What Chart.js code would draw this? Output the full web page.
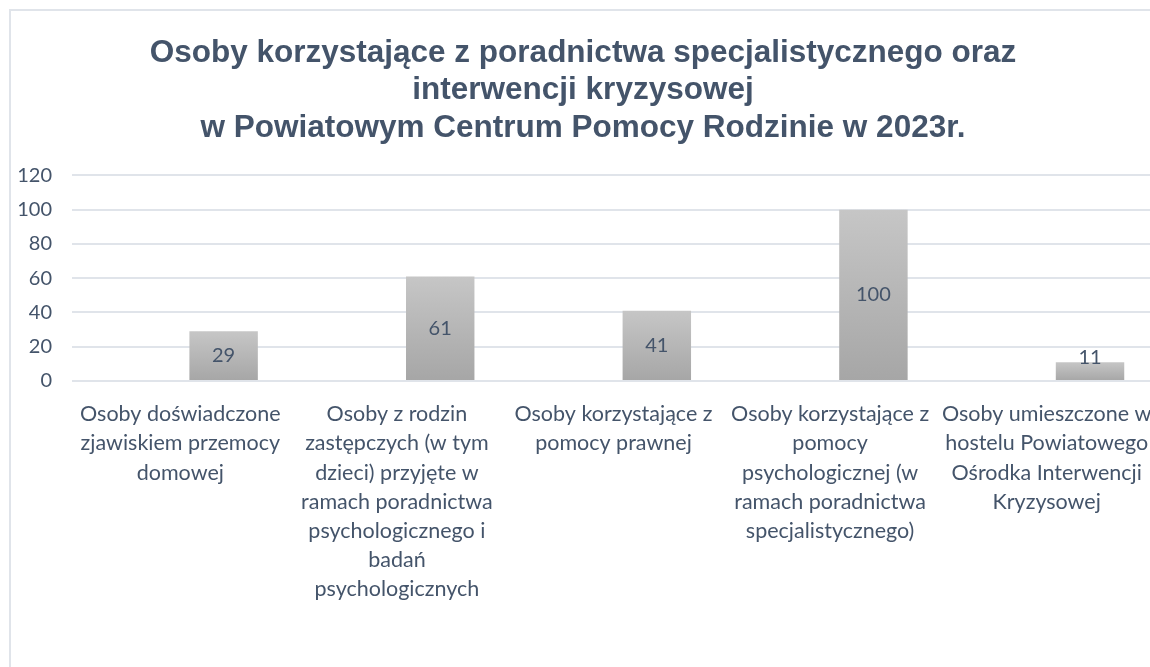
<!DOCTYPE html>
<html>
<head>
<meta charset="utf-8">
<script src="https://cdn.jsdelivr.net/npm/chart.js@4"></script>
<style>
    html, body { margin: 0; padding: 0; background: #fff; overflow: hidden; }
    #frame {
        position: absolute; left: 9px; top: 9px;
        width: 1170px; height: 700px;
        border-left: 2px solid #E0E4EA; border-top: 2px solid #E0E4EA;
        overflow: hidden;
    }
    #wrap { position: absolute; left: 0; top: 0; width: 1160px; height: 600px; }
</style>
</head>
<body>
<div id="frame"><div id="wrap"><canvas id="barChart"></canvas></div></div>
<script>
// dane
var categories = [
    ['Osoby doświadczone', 'zjawiskiem przemocy', 'domowej'],
    ['Osoby z rodzin', 'zastępczych (w tym', 'dzieci) przyjęte w', 'ramach poradnictwa', 'psychologicznego i', 'badań', 'psychologicznych'],
    ['Osoby korzystające z', 'pomocy prawnej'],
    ['Osoby korzystające z', 'pomocy', 'psychologicznej (w', 'ramach poradnictwa', 'specjalistycznego)'],
    ['Osoby umieszczone w', 'hostelu Powiatowego', 'Ośrodka Interwencji', 'Kryzysowej']
];
var values = [29, 61, 41, 100, 11];
var emptySeries = [null, null, null, null, null];
var yTicks = [0, 20, 40, 60, 80, 100, 120];
var titleLines = [
    'Osoby korzystające z poradnictwa specjalistycznego oraz',
    'interwencji kryzysowej',
    'w Powiatowym Centrum Pomocy Rodzinie w 2023r.'
];

var textColor = '#44546A';

function barGradient(context) {
    var chart = context.chart;
    var y = chart.scales.y;
    if (!y || context.raw == null) return '#B8B8B8';
    var top = y.getPixelForValue(context.raw);
    var bottom = y.getPixelForValue(0);
    if (!isFinite(top) || !isFinite(bottom)) return '#B8B8B8';
    var g = chart.ctx.createLinearGradient(0, top, 0, bottom);
    g.addColorStop(0, '#C6C6C6');
    g.addColorStop(1, '#A6A6A6');
    return g;
}

// etykiety wartości w środku słupka
var valueLabels = {
    id: 'valueLabels',
    afterDatasetsDraw: function (chart) {
        var ctx = chart.ctx;
        var meta = chart.getDatasetMeta(1);
        ctx.save();
        ctx.font = '20px Lato';
        ctx.fillStyle = textColor;
        ctx.textAlign = 'center';
        ctx.textBaseline = 'middle';
        meta.data.forEach(function (bar, i) {
            var mid = (bar.y + bar.base) / 2;
            var y = Math.min(mid, bar.base - 22);
            ctx.fillText(values[i], bar.x, y);
        });
        ctx.restore();
    }
};

document.addEventListener('DOMContentLoaded', function () {
    var ctx = document.getElementById('barChart').getContext('2d');
    new Chart(ctx, {
        type: 'bar',
        data: {
            labels: categories,
            datasets: [{
                label: 'empty',
                data: emptySeries,
                backgroundColor: 'transparent'
            }, {
                label: 'Osoby',
                data: values,
                backgroundColor: barGradient
            }]
        },
        options: {
            responsive: true,
            maintainAspectRatio: false,
            animation: false,
            layout: { padding: { left: 0, right: 16, top: 0, bottom: 0 } },
            datasets: {
                bar: { categoryPercentage: 0.8, barPercentage: 0.79 }
            },
            plugins: {
                legend: { display: false },
                tooltip: { enabled: false },
                title: {
                    display: true,
                    text: titleLines,
                    color: textColor,
                    font: { family: 'Liberation Sans', size: 31.5, weight: 'bold', lineHeight: 1.2 },
                    padding: { top: 23, bottom: 28 }
                }
            },
            scales: {
                x: {
                    afterFit: function (scale) { scale.height = 230; },
                    grid: { display: false },
                    border: { display: false },
                    ticks: {
                        color: textColor,
                        font: { family: 'Lato', size: 21.5, lineHeight: 1.35 },
                        maxRotation: 0,
                        autoSkip: false,
                        padding: 11
                    }
                },
                y: {
                    min: 0,
                    max: 120,
                    afterFit: function (scale) { scale.width = 61; },
                    afterBuildTicks: function (scale) {
                        scale.ticks = yTicks.map(function (v) { return { value: v }; });
                    },
                    grid: { color: '#E0E4EA', lineWidth: 2, drawTicks: false },
                    border: { display: false },
                    ticks: {
                        color: textColor,
                        font: { family: 'Lato', size: 20 },
                        padding: 20
                    }
                }
            }
        },
        plugins: [valueLabels]
    });
});
</script>
</body>
</html>
